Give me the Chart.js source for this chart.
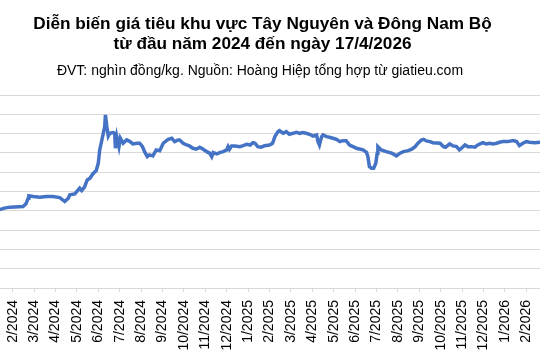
<!DOCTYPE html>
<html>
<head>
<meta charset="utf-8">
<script src="https://cdn.jsdelivr.net/npm/chart.js@4/dist/chart.umd.min.js"></script>
<style>
  html, body { margin: 0; padding: 0; background: #fff; }
  #wrap { position: relative; width: 540px; height: 360px; }
  #title, #subtitle {
    position: absolute; left: 0; width: 540px; box-sizing: border-box;
    text-align: center; color: #000; font-family: 'Liberation Sans', Arial, sans-serif; white-space: nowrap;
  }
  #title { top: 13px; font-size: 17.2px; font-weight: bold; line-height: 20px; padding-right: 15px; }
  #subtitle { top: 61px; font-size: 14px; line-height: 18px; padding-right: 20px; }
  canvas { position: absolute; left: 0; top: 0; }
</style>
</head>
<body>
<div id="wrap">
  <canvas id="priceChart" width="540" height="360"></canvas>
  <div id="title"></div>
  <div id="subtitle"></div>
</div>
<script>
// Giá tiêu Tây Nguyên & Đông Nam Bộ (nghìn đồng/kg)
const titleLines = ['Diễn biến giá tiêu khu vực Tây Nguyên và Đông Nam Bộ', 'từ đầu năm 2024 đến ngày 17/4/2026'];
const subtitleText = 'ĐVT: nghìn đồng/kg. Nguồn: Hoàng Hiệp tổng hợp từ giatieu.com';

const monthLabels = [
    '2/2024', '3/2024', '4/2024', '5/2024', '6/2024', '7/2024', '8/2024', '9/2024',
    '10/2024', '11/2024', '12/2024', '1/2025', '2/2025', '3/2025', '4/2025', '5/2025',
    '6/2025', '7/2025', '8/2025', '9/2025', '10/2025', '11/2025', '12/2025', '1/2026', '2/2026'
];

const priceDates = [
    '2024-01-10', '2024-01-20', '2024-01-28', '2024-02-15', '2024-02-19', '2024-02-22', '2024-02-23', '2024-02-29',
    '2024-03-09', '2024-03-19', '2024-03-28', '2024-04-07', '2024-04-14', '2024-04-19', '2024-04-21', '2024-04-28',
    '2024-05-05', '2024-05-08', '2024-05-12', '2024-05-16', '2024-05-20', '2024-05-24', '2024-05-29', '2024-06-01',
    '2024-06-03', '2024-06-05', '2024-06-08', '2024-06-10', '2024-06-11', '2024-06-13', '2024-06-15', '2024-06-17',
    '2024-06-22', '2024-06-24', '2024-06-25', '2024-06-27', '2024-06-30', '2024-07-02', '2024-07-06', '2024-07-11',
    '2024-07-16', '2024-07-20', '2024-07-26', '2024-07-30', '2024-08-03', '2024-08-06', '2024-08-10', '2024-08-13',
    '2024-08-18', '2024-08-23', '2024-08-28', '2024-09-02', '2024-09-09', '2024-09-14', '2024-09-18', '2024-09-23',
    '2024-09-25', '2024-09-30', '2024-10-05', '2024-10-09', '2024-10-14', '2024-10-19', '2024-10-24', '2024-10-29',
    '2024-11-03', '2024-11-07', '2024-11-10', '2024-11-12', '2024-11-17', '2024-11-21', '2024-11-26', '2024-12-01',
    '2024-12-03', '2024-12-05', '2024-12-08', '2024-12-13', '2024-12-20', '2024-12-25', '2024-12-30', '2025-01-04',
    '2025-01-08', '2025-01-11', '2025-01-15', '2025-01-20', '2025-01-25', '2025-02-01', '2025-02-05', '2025-02-08',
    '2025-02-12', '2025-02-14', '2025-02-19', '2025-02-23', '2025-02-27', '2025-03-04', '2025-03-09', '2025-03-14',
    '2025-03-18', '2025-03-23', '2025-03-28', '2025-04-02', '2025-04-07', '2025-04-09', '2025-04-11', '2025-04-14',
    '2025-04-16', '2025-04-21', '2025-04-25', '2025-04-30', '2025-05-05', '2025-05-10', '2025-05-14', '2025-05-19',
    '2025-05-24', '2025-05-29', '2025-06-03', '2025-06-07', '2025-06-12', '2025-06-17', '2025-06-19', '2025-06-21',
    '2025-06-24', '2025-06-27', '2025-06-30', '2025-07-02', '2025-07-03', '2025-07-08', '2025-07-15', '2025-07-23',
    '2025-07-30', '2025-08-04', '2025-08-09', '2025-08-16', '2025-08-21', '2025-08-26', '2025-08-30', '2025-09-04',
    '2025-09-07', '2025-09-11', '2025-09-16', '2025-09-20', '2025-09-30', '2025-10-05', '2025-10-08', '2025-10-14',
    '2025-10-19', '2025-10-24', '2025-10-28', '2025-10-31', '2025-11-05', '2025-11-09', '2025-11-14', '2025-11-19',
    '2025-11-23', '2025-11-30', '2025-12-05', '2025-12-10', '2025-12-15', '2025-12-20', '2025-12-24', '2025-12-29',
    '2026-01-05', '2026-01-13', '2026-01-18', '2026-01-22', '2026-01-27', '2026-02-01', '2026-02-05', '2026-02-12',
    '2026-02-19', '2026-02-25'
];

const priceValues = [
    80.5, 82.8, 83.8, 84.4, 87.2, 93.1, 95.5, 94.8,
    94.1, 94.8, 94.8, 93.7, 89.6, 93.1, 96.5, 97.5,
    103.4, 101.0, 104.5, 112.0, 113.8, 118.2, 121.7, 129.3,
    143.1, 150.0, 160.3, 167.2, 179.3, 167.2, 157.5, 160.3,
    161.0, 160.3, 144.8, 156.8, 146.5, 155.2, 150.0, 153.4,
    151.7, 149.3, 150.0, 150.0, 146.5, 141.3, 136.1, 137.9,
    136.9, 143.1, 142.3, 150.0, 154.1, 155.2, 151.7, 153.4,
    153.4, 150.0, 148.2, 147.2, 144.8, 143.8, 145.9, 143.8,
    141.3, 139.7, 136.1, 140.3, 138.9, 140.3, 141.3, 143.1,
    146.5, 143.8, 147.2, 147.2, 146.5, 147.5, 149.0, 148.2,
    150.6, 150.0, 146.5, 145.9, 147.5, 148.2, 150.0, 156.8,
    162.0, 163.0, 160.3, 162.0, 159.3, 160.3, 161.4, 160.3,
    161.0, 160.3, 159.3, 157.5, 158.6, 151.7, 148.2, 156.8,
    158.6, 156.8, 156.2, 155.2, 154.1, 151.7, 152.7, 152.7,
    148.2, 146.5, 144.8, 144.1, 143.1, 140.5, 136.1, 125.8,
    124.1, 124.1, 129.3, 139.7, 146.5, 143.1, 141.3, 139.7,
    136.9, 139.7, 141.3, 142.3, 143.8, 146.5, 150.0, 153.4,
    154.1, 152.4, 151.7, 150.6, 150.0, 146.5, 145.9, 149.3,
    147.2, 146.5, 143.1, 144.8, 148.2, 146.5, 146.5, 145.9,
    148.2, 150.6, 149.3, 150.0, 149.3, 150.0, 151.0, 151.7,
    151.7, 152.7, 151.7, 147.5, 150.0, 151.7, 151.0, 150.6,
    151.0, 151.0
];

document.getElementById('title').innerHTML = titleLines.join('<br>');
document.getElementById('subtitle').textContent = subtitleText;

// vị trí theo tháng: 0 = 1/2/2024
function monthPos(s) {
    const [y, m, d] = s.split('-').map(Number);
    const dim = new Date(y, m, 0).getDate();
    return (y - 2024) * 12 + (m - 2) + (d - 1) / dim;
}

const points = priceDates.map((d, i) => ({ x: monthPos(d), y: priceValues[i] }));

const gridColor = '#d9d9d9';

new Chart(document.getElementById('priceChart'), {
    type: 'line',
    data: {
        datasets: [{
            data: points,
            borderColor: '#4472c4',
            borderWidth: 3.5,
            pointRadius: 0,
            tension: 0,
            fill: false
        }]
    },
    options: {
        responsive: false,
        animation: false,
        layout: { padding: { left: 0, right: 0, top: 95, bottom: 0 } },
        scales: {
            x: {
                type: 'linear',
                min: -0.593,
                max: 24.64,
                afterBuildTicks: axis => {
                    axis.ticks = monthLabels.map((_, i) => ({ value: i }));
                },
                afterFit: axis => {
                    // trục bị cắt hai bên như ảnh gốc
                    axis.paddingLeft = 0;
                    axis.paddingRight = 0;
                    axis.height = 72;
                },
                grid: { drawOnChartArea: false, drawTicks: true, tickLength: 4, color: gridColor },
                border: { color: gridColor, width: 1 },
                ticks: {
                    autoSkip: false,
                    minRotation: 90,
                    maxRotation: 90,
                    padding: 8,
                    color: '#000',
                    font: { family: 'Liberation Sans', size: 14 },
                    callback: v => monthLabels[Math.round(v)]
                }
            },
            y: {
                min: 0,
                max: 200,
                ticks: { display: false, stepSize: 20 },
                grid: { color: gridColor, drawTicks: false },
                border: { display: false }
            }
        },
        plugins: {
            legend: { display: false },
            tooltip: { enabled: false }
        }
    }
});
</script>
</body>
</html>
